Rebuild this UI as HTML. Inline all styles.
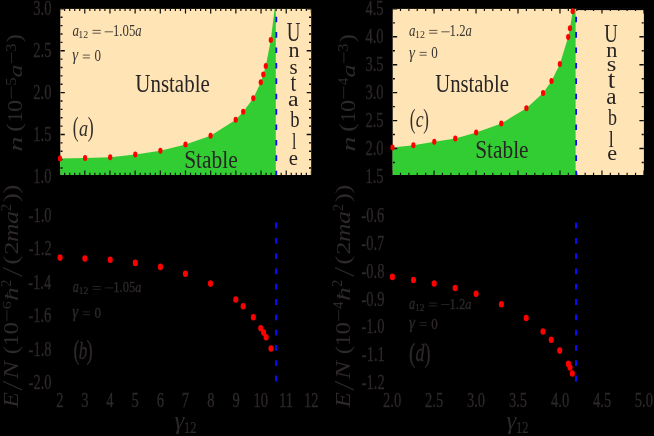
<!DOCTYPE html>
<html><head><meta charset="utf-8"><title>phase diagram</title>
<style>html,body{margin:0;padding:0;background:#000;}svg{display:block;font-family:"Liberation Serif",serif;will-change:transform;transform:translateZ(0);}</style></head>
<body>
<svg width="654" height="436" viewBox="0 0 654 436">
<rect x="60.3" y="8.9" width="250.89999999999998" height="166.1" fill="#ffe4b5"/>
<polygon points="60.0,158.4 85.1,158.0 110.2,157.2 135.3,154.5 160.4,150.8 185.5,144.5 210.6,135.7 235.7,119.7 243.2,111.7 253.3,98.3 260.8,82.2 263.3,74.5 265.8,66.1 270.8,39.9 274.6,8.9 275.8,8.9 275.8,175.0 60.3,175.0" fill="#32cd32"/>
<rect x="392.7" y="8.9" width="251.2" height="166.1" fill="#ffe4b5"/>
<polygon points="392.5,147.6 413.4,145.3 434.3,141.8 455.3,138.6 476.2,132.4 501.3,123.4 526.4,108.3 543.1,93.1 551.5,81.1 559.9,64.1 568.2,36.9 570.0,28.3 572.7,11.3 573.0,8.9 575.6,8.9 575.6,175.0 392.7,175.0" fill="#32cd32"/>
<rect x="577.0" y="8.4" width="67.40" height="1.7" fill="#000"/>
<clipPath id="cpa"><rect x="60.3" y="8.9" width="250.90" height="166.1"/></clipPath>
<path clip-path="url(#cpa)" d="M59.60 8.9v4.5M59.60 175v-4.5M84.78 8.9v4.5M84.78 175v-4.5M109.96 8.9v4.5M109.96 175v-4.5M135.14 8.9v4.5M135.14 175v-4.5M160.32 8.9v4.5M160.32 175v-4.5M185.50 8.9v4.5M185.50 175v-4.5M210.68 8.9v4.5M210.68 175v-4.5M235.86 8.9v4.5M235.86 175v-4.5M261.04 8.9v4.5M261.04 175v-4.5M286.22 8.9v4.5M286.22 175v-4.5M311.40 8.9v4.5M311.40 175v-4.5M59.60 8.9v2.2M59.60 175v-2.2M64.64 8.9v2.2M64.64 175v-2.2M69.67 8.9v2.2M69.67 175v-2.2M74.71 8.9v2.2M74.71 175v-2.2M79.74 8.9v2.2M79.74 175v-2.2M84.78 8.9v2.2M84.78 175v-2.2M89.82 8.9v2.2M89.82 175v-2.2M94.85 8.9v2.2M94.85 175v-2.2M99.89 8.9v2.2M99.89 175v-2.2M104.92 8.9v2.2M104.92 175v-2.2M109.96 8.9v2.2M109.96 175v-2.2M115.00 8.9v2.2M115.00 175v-2.2M120.03 8.9v2.2M120.03 175v-2.2M125.07 8.9v2.2M125.07 175v-2.2M130.10 8.9v2.2M130.10 175v-2.2M135.14 8.9v2.2M135.14 175v-2.2M140.18 8.9v2.2M140.18 175v-2.2M145.21 8.9v2.2M145.21 175v-2.2M150.25 8.9v2.2M150.25 175v-2.2M155.28 8.9v2.2M155.28 175v-2.2M160.32 8.9v2.2M160.32 175v-2.2M165.36 8.9v2.2M165.36 175v-2.2M170.39 8.9v2.2M170.39 175v-2.2M175.43 8.9v2.2M175.43 175v-2.2M180.46 8.9v2.2M180.46 175v-2.2M185.50 8.9v2.2M185.50 175v-2.2M190.54 8.9v2.2M190.54 175v-2.2M195.57 8.9v2.2M195.57 175v-2.2M200.61 8.9v2.2M200.61 175v-2.2M205.64 8.9v2.2M205.64 175v-2.2M210.68 8.9v2.2M210.68 175v-2.2M215.72 8.9v2.2M215.72 175v-2.2M220.75 8.9v2.2M220.75 175v-2.2M225.79 8.9v2.2M225.79 175v-2.2M230.82 8.9v2.2M230.82 175v-2.2M235.86 8.9v2.2M235.86 175v-2.2M240.90 8.9v2.2M240.90 175v-2.2M245.93 8.9v2.2M245.93 175v-2.2M250.97 8.9v2.2M250.97 175v-2.2M256.00 8.9v2.2M256.00 175v-2.2M261.04 8.9v2.2M261.04 175v-2.2M266.08 8.9v2.2M266.08 175v-2.2M271.11 8.9v2.2M271.11 175v-2.2M276.15 8.9v2.2M276.15 175v-2.2M281.18 8.9v2.2M281.18 175v-2.2M286.22 8.9v2.2M286.22 175v-2.2M291.26 8.9v2.2M291.26 175v-2.2M296.29 8.9v2.2M296.29 175v-2.2M301.33 8.9v2.2M301.33 175v-2.2M306.36 8.9v2.2M306.36 175v-2.2M311.40 8.9v2.2M311.40 175v-2.2" stroke="#0c0a08" stroke-width="1.2" fill="none"/>
<path clip-path="url(#cpa)" d="M60.3 8.90h4.5M311.2 8.90h-4.5M60.3 50.77h4.5M311.2 50.77h-4.5M60.3 92.64h4.5M311.2 92.64h-4.5M60.3 134.51h4.5M311.2 134.51h-4.5M60.3 176.38h4.5M311.2 176.38h-4.5M60.3 8.90h2.2M311.2 8.90h-2.2M60.3 17.27h2.2M311.2 17.27h-2.2M60.3 25.65h2.2M311.2 25.65h-2.2M60.3 34.02h2.2M311.2 34.02h-2.2M60.3 42.40h2.2M311.2 42.40h-2.2M60.3 50.77h2.2M311.2 50.77h-2.2M60.3 59.14h2.2M311.2 59.14h-2.2M60.3 67.52h2.2M311.2 67.52h-2.2M60.3 75.89h2.2M311.2 75.89h-2.2M60.3 84.27h2.2M311.2 84.27h-2.2M60.3 92.64h2.2M311.2 92.64h-2.2M60.3 101.01h2.2M311.2 101.01h-2.2M60.3 109.39h2.2M311.2 109.39h-2.2M60.3 117.76h2.2M311.2 117.76h-2.2M60.3 126.14h2.2M311.2 126.14h-2.2M60.3 134.51h2.2M311.2 134.51h-2.2M60.3 142.88h2.2M311.2 142.88h-2.2M60.3 151.26h2.2M311.2 151.26h-2.2M60.3 159.63h2.2M311.2 159.63h-2.2M60.3 168.01h2.2M311.2 168.01h-2.2M60.3 176.38h2.2M311.2 176.38h-2.2" stroke="#0c0a08" stroke-width="1.4" fill="none"/>
<clipPath id="cpc"><rect x="392.7" y="8.9" width="251.20" height="166.1"/></clipPath>
<path clip-path="url(#cpc)" d="M392.10 8.9v4.5M392.10 175v-4.5M434.07 8.9v4.5M434.07 175v-4.5M476.04 8.9v4.5M476.04 175v-4.5M518.01 8.9v4.5M518.01 175v-4.5M559.98 8.9v4.5M559.98 175v-4.5M601.95 8.9v4.5M601.95 175v-4.5M643.92 8.9v4.5M643.92 175v-4.5M392.10 8.9v2.2M392.10 175v-2.2M400.49 8.9v2.2M400.49 175v-2.2M408.89 8.9v2.2M408.89 175v-2.2M417.28 8.9v2.2M417.28 175v-2.2M425.68 8.9v2.2M425.68 175v-2.2M434.07 8.9v2.2M434.07 175v-2.2M442.46 8.9v2.2M442.46 175v-2.2M450.86 8.9v2.2M450.86 175v-2.2M459.25 8.9v2.2M459.25 175v-2.2M467.65 8.9v2.2M467.65 175v-2.2M476.04 8.9v2.2M476.04 175v-2.2M484.43 8.9v2.2M484.43 175v-2.2M492.83 8.9v2.2M492.83 175v-2.2M501.22 8.9v2.2M501.22 175v-2.2M509.62 8.9v2.2M509.62 175v-2.2M518.01 8.9v2.2M518.01 175v-2.2M526.40 8.9v2.2M526.40 175v-2.2M534.80 8.9v2.2M534.80 175v-2.2M543.19 8.9v2.2M543.19 175v-2.2M551.59 8.9v2.2M551.59 175v-2.2M559.98 8.9v2.2M559.98 175v-2.2M568.37 8.9v2.2M568.37 175v-2.2M576.77 8.9v2.2M576.77 175v-2.2M585.16 8.9v2.2M585.16 175v-2.2M593.56 8.9v2.2M593.56 175v-2.2M601.95 8.9v2.2M601.95 175v-2.2M610.34 8.9v2.2M610.34 175v-2.2M618.74 8.9v2.2M618.74 175v-2.2M627.13 8.9v2.2M627.13 175v-2.2M635.53 8.9v2.2M635.53 175v-2.2M643.92 8.9v2.2M643.92 175v-2.2" stroke="#0c0a08" stroke-width="1.2" fill="none"/>
<path clip-path="url(#cpc)" d="M392.7 8.90h4.5M643.9 8.90h-4.5M392.7 36.82h4.5M643.9 36.82h-4.5M392.7 64.74h4.5M643.9 64.74h-4.5M392.7 92.66h4.5M643.9 92.66h-4.5M392.7 120.58h4.5M643.9 120.58h-4.5M392.7 148.50h4.5M643.9 148.50h-4.5M392.7 176.42h4.5M643.9 176.42h-4.5M392.7 8.90h2.2M643.9 8.90h-2.2M392.7 22.86h2.2M643.9 22.86h-2.2M392.7 36.82h2.2M643.9 36.82h-2.2M392.7 50.78h2.2M643.9 50.78h-2.2M392.7 64.74h2.2M643.9 64.74h-2.2M392.7 78.70h2.2M643.9 78.70h-2.2M392.7 92.66h2.2M643.9 92.66h-2.2M392.7 106.62h2.2M643.9 106.62h-2.2M392.7 120.58h2.2M643.9 120.58h-2.2M392.7 134.54h2.2M643.9 134.54h-2.2M392.7 148.50h2.2M643.9 148.50h-2.2M392.7 162.46h2.2M643.9 162.46h-2.2M392.7 176.42h2.2M643.9 176.42h-2.2" stroke="#0c0a08" stroke-width="1.4" fill="none"/>
<line x1="276.3" y1="175" x2="276.3" y2="9.9" stroke="#0a0aff" stroke-width="1.8" stroke-dasharray="5.6 9.8" stroke-dashoffset="1.3"/>
<line x1="276.1" y1="381.40" x2="276.1" y2="216.3" stroke="#0a0aff" stroke-width="2.0" stroke-dasharray="5.8 9.5"/>
<line x1="576.1" y1="175" x2="576.1" y2="9.9" stroke="#0a0aff" stroke-width="1.8" stroke-dasharray="5.6 9.8" stroke-dashoffset="1.3"/>
<line x1="576.0" y1="381.40" x2="576.0" y2="216.3" stroke="#0a0aff" stroke-width="2.0" stroke-dasharray="5.8 9.5"/>
<ellipse cx="60" cy="158.4" rx="2.12" ry="3.0" fill="#ff0000"/>
<ellipse cx="85.1" cy="158" rx="2.12" ry="3.0" fill="#ff0000"/>
<ellipse cx="110.2" cy="157.2" rx="2.12" ry="3.0" fill="#ff0000"/>
<ellipse cx="135.3" cy="154.5" rx="2.12" ry="3.0" fill="#ff0000"/>
<ellipse cx="160.4" cy="150.8" rx="2.12" ry="3.0" fill="#ff0000"/>
<ellipse cx="185.5" cy="144.5" rx="2.12" ry="3.0" fill="#ff0000"/>
<ellipse cx="210.6" cy="135.7" rx="2.12" ry="3.0" fill="#ff0000"/>
<ellipse cx="235.7" cy="119.7" rx="2.12" ry="3.0" fill="#ff0000"/>
<ellipse cx="243.2" cy="111.7" rx="2.12" ry="3.0" fill="#ff0000"/>
<ellipse cx="253.3" cy="98.3" rx="2.12" ry="3.0" fill="#ff0000"/>
<ellipse cx="260.8" cy="82.2" rx="2.12" ry="3.0" fill="#ff0000"/>
<ellipse cx="263.3" cy="74.5" rx="2.12" ry="3.0" fill="#ff0000"/>
<ellipse cx="265.8" cy="66.1" rx="2.12" ry="3.0" fill="#ff0000"/>
<ellipse cx="270.8" cy="39.9" rx="2.12" ry="3.0" fill="#ff0000"/>
<ellipse cx="60.1" cy="257.6" rx="2.55" ry="3.3" fill="#ff0000"/>
<ellipse cx="84.9" cy="258.5" rx="2.55" ry="3.3" fill="#ff0000"/>
<ellipse cx="110.2" cy="259.8" rx="2.55" ry="3.3" fill="#ff0000"/>
<ellipse cx="135.3" cy="262.9" rx="2.55" ry="3.3" fill="#ff0000"/>
<ellipse cx="160.5" cy="266.9" rx="2.55" ry="3.3" fill="#ff0000"/>
<ellipse cx="185.4" cy="273.7" rx="2.55" ry="3.3" fill="#ff0000"/>
<ellipse cx="210.5" cy="283.6" rx="2.55" ry="3.3" fill="#ff0000"/>
<ellipse cx="235.8" cy="299.5" rx="2.55" ry="3.3" fill="#ff0000"/>
<ellipse cx="243.2" cy="306.2" rx="2.55" ry="3.3" fill="#ff0000"/>
<ellipse cx="253.4" cy="317.2" rx="2.55" ry="3.3" fill="#ff0000"/>
<ellipse cx="260.8" cy="328.2" rx="2.55" ry="3.3" fill="#ff0000"/>
<ellipse cx="263.6" cy="332.6" rx="2.55" ry="3.3" fill="#ff0000"/>
<ellipse cx="266.1" cy="337.3" rx="2.55" ry="3.3" fill="#ff0000"/>
<ellipse cx="271" cy="348.5" rx="2.55" ry="3.3" fill="#ff0000"/>
<ellipse cx="392.5" cy="147.6" rx="2.12" ry="3.0" fill="#ff0000"/>
<ellipse cx="413.4" cy="145.3" rx="2.12" ry="3.0" fill="#ff0000"/>
<ellipse cx="434.3" cy="141.8" rx="2.12" ry="3.0" fill="#ff0000"/>
<ellipse cx="455.3" cy="138.6" rx="2.12" ry="3.0" fill="#ff0000"/>
<ellipse cx="476.2" cy="132.4" rx="2.12" ry="3.0" fill="#ff0000"/>
<ellipse cx="501.3" cy="123.4" rx="2.12" ry="3.0" fill="#ff0000"/>
<ellipse cx="526.4" cy="108.3" rx="2.12" ry="3.0" fill="#ff0000"/>
<ellipse cx="543.1" cy="93.1" rx="2.12" ry="3.0" fill="#ff0000"/>
<ellipse cx="551.5" cy="81.1" rx="2.12" ry="3.0" fill="#ff0000"/>
<ellipse cx="559.9" cy="64.1" rx="2.12" ry="3.0" fill="#ff0000"/>
<ellipse cx="568.2" cy="36.9" rx="2.12" ry="3.0" fill="#ff0000"/>
<ellipse cx="570" cy="28.3" rx="2.12" ry="3.0" fill="#ff0000"/>
<ellipse cx="572.7" cy="11.3" rx="2.12" ry="3.0" fill="#ff0000"/>
<ellipse cx="392.4" cy="276.9" rx="2.55" ry="3.3" fill="#ff0000"/>
<ellipse cx="413.5" cy="280" rx="2.55" ry="3.3" fill="#ff0000"/>
<ellipse cx="434.2" cy="283.5" rx="2.55" ry="3.3" fill="#ff0000"/>
<ellipse cx="455.2" cy="288" rx="2.55" ry="3.3" fill="#ff0000"/>
<ellipse cx="476.1" cy="293.8" rx="2.55" ry="3.3" fill="#ff0000"/>
<ellipse cx="501.4" cy="304.2" rx="2.55" ry="3.3" fill="#ff0000"/>
<ellipse cx="526.2" cy="318" rx="2.55" ry="3.3" fill="#ff0000"/>
<ellipse cx="543" cy="331.5" rx="2.55" ry="3.3" fill="#ff0000"/>
<ellipse cx="551.2" cy="339.8" rx="2.55" ry="3.3" fill="#ff0000"/>
<ellipse cx="559.7" cy="350.6" rx="2.55" ry="3.3" fill="#ff0000"/>
<ellipse cx="568.4" cy="363.9" rx="2.55" ry="3.3" fill="#ff0000"/>
<ellipse cx="570" cy="367.5" rx="2.55" ry="3.3" fill="#ff0000"/>
<ellipse cx="572.3" cy="373.5" rx="2.55" ry="3.3" fill="#ff0000"/>
<text fill="#282424" transform="matrix(0.8066 0 0 0.9589 54.637 -99.621)" x="100" y="200" font-family="Liberation Serif" font-size="26">Unstable</text>
<text fill="#282424" transform="matrix(0.8257 0 0 0.9534 101.585 -22.723)" x="100" y="200" font-family="Liberation Serif" font-size="26">Stable</text>
<text fill="#282424" transform="matrix(0.7978 0 0 0.9644 355.421 -100.918)" x="100" y="200" font-family="Liberation Serif" font-size="26">Unstable</text>
<text fill="#282424" transform="matrix(0.8209 0 0 0.9315 393.175 -27.934)" x="100" y="200" font-family="Liberation Serif" font-size="26">Stable</text>
<text fill="#282424" transform="matrix(0.7268 0 0 1.0377 214.061 -166.596)" x="100" y="200" font-family="Liberation Serif" font-size="26">U</text>
<text fill="#282424" transform="matrix(0.8500 0 0 0.8000 203.575 -103.200)" x="100" y="200" font-family="Liberation Serif" font-size="26">n</text>
<text fill="#282424" transform="matrix(0.8000 0 0 0.8320 209.400 -92.608)" x="100" y="200" font-family="Liberation Serif" font-size="26">s</text>
<text fill="#282424" transform="matrix(0.8000 0 0 0.9288 210.400 -94.995)" x="100" y="200" font-family="Liberation Serif" font-size="26">t</text>
<text fill="#282424" transform="matrix(0.9171 0 0 0.8400 196.376 -62.210)" x="100" y="200" font-family="Liberation Serif" font-size="26">a</text>
<text fill="#282424" transform="matrix(0.7167 0 0 0.9041 218.533 -54.048)" x="100" y="200" font-family="Liberation Serif" font-size="26">b</text>
<text fill="#282424" transform="matrix(0.6080 0 0 0.9000 231.096 -30.500)" x="100" y="200" font-family="Liberation Serif" font-size="26">l</text>
<text fill="#282424" transform="matrix(0.8000 0 0 0.8240 208.800 0.594)" x="100" y="200" font-family="Liberation Serif" font-size="26">e</text>
<text fill="#282424" transform="matrix(0.7155 0 0 0.9855 532.693 -155.148)" x="100" y="200" font-family="Liberation Serif" font-size="26">U</text>
<text fill="#282424" transform="matrix(0.8583 0 0 0.7918 520.338 -101.567)" x="100" y="200" font-family="Liberation Serif" font-size="26">n</text>
<text fill="#282424" transform="matrix(0.9455 0 0 0.7840 512.109 -86.096)" x="100" y="200" font-family="Liberation Serif" font-size="26">s</text>
<text fill="#282424" transform="matrix(1.0370 0 0 0.9898 504.037 -110.214)" x="100" y="200" font-family="Liberation Serif" font-size="26">t</text>
<text fill="#282424" transform="matrix(0.8878 0 0 0.8720 517.532 -70.518)" x="100" y="200" font-family="Liberation Serif" font-size="26">a</text>
<text fill="#282424" transform="matrix(0.6917 0 0 0.9096 538.833 -57.145)" x="100" y="200" font-family="Liberation Serif" font-size="26">b</text>
<text fill="#282424" transform="matrix(0.6880 0 0 0.8889 539.956 -30.378)" x="100" y="200" font-family="Liberation Serif" font-size="26">l</text>
<text fill="#282424" transform="matrix(0.8513 0 0 0.8240 522.021 -4.306)" x="100" y="200" font-family="Liberation Serif" font-size="26">e</text>
<text fill="#342f2a" transform="matrix(0.7200 0 0 1.1395 0.880 -92.005)" x="100" y="200" font-family="Liberation Serif" font-size="24">(</text>
<text fill="#342f2a" transform="matrix(0.7610 0 0 0.9826 2.932 -60.967)" x="100" y="200" font-family="Liberation Serif" font-size="24" font-style="italic">a</text>
<text fill="#342f2a" transform="matrix(0.7520 0 0 1.1395 12.436 -92.005)" x="100" y="200" font-family="Liberation Serif" font-size="24">)</text>
<text fill="#342f2a" transform="matrix(0.7200 0 0 1.1349 337.680 -99.451)" x="100" y="200" font-family="Liberation Serif" font-size="24">(</text>
<text fill="#342f2a" transform="matrix(0.7368 0 0 0.9652 341.963 -66.085)" x="100" y="200" font-family="Liberation Serif" font-size="24" font-style="italic">c</text>
<text fill="#342f2a" transform="matrix(0.7040 0 0 1.1349 352.772 -99.451)" x="100" y="200" font-family="Liberation Serif" font-size="24">)</text>
<text fill="#2e2929" transform="matrix(0.7520 0 0 1.1682 -1.752 125.031)" x="100" y="200" font-family="Liberation Serif" font-size="24" stroke="#2e2929" stroke-width="0.3">(</text>
<text fill="#2e2929" transform="matrix(0.7163 0 0 1.0529 7.135 148.049)" x="100" y="200" font-family="Liberation Serif" font-size="24" stroke="#2e2929" stroke-width="0.3" font-style="italic">b</text>
<text fill="#2e2929" transform="matrix(0.7840 0 0 1.1682 8.212 125.031)" x="100" y="200" font-family="Liberation Serif" font-size="24" stroke="#2e2929" stroke-width="0.3">)</text>
<text fill="#2e2929" transform="matrix(0.8160 0 0 1.1773 327.384 126.365)" x="100" y="200" font-family="Liberation Serif" font-size="24" stroke="#2e2929" stroke-width="0.3">(</text>
<text fill="#2e2929" transform="matrix(0.7489 0 0 1.0529 340.732 150.849)" x="100" y="200" font-family="Liberation Serif" font-size="24" stroke="#2e2929" stroke-width="0.3" font-style="italic">d</text>
<text fill="#2e2929" transform="matrix(0.7520 0 0 1.1773 349.436 126.365)" x="100" y="200" font-family="Liberation Serif" font-size="24" stroke="#2e2929" stroke-width="0.3">)</text>
<text fill="#3a3530" transform="matrix(0.8148 0 0 1.0129 -8.989 -166.684)" x="100" y="200" font-family="Liberation Serif" font-size="16" font-style="italic">a</text>
<text fill="#3a3530" transform="matrix(0.6222 0 0 0.6762 16.144 -96.838)" x="100" y="200" font-family="Liberation Serif" font-size="16">12</text>
<path d="M92.50 30.40H100.80" stroke="#3a3530" stroke-width="0.8" fill="none"/>
<path d="M92.50 33.20H100.80" stroke="#3a3530" stroke-width="0.8" fill="none"/>
<path d="M104.70 31.80H113.00" stroke="#3a3530" stroke-width="0.8" fill="none"/>
<text fill="#3a3530" transform="matrix(0.7970 0 0 0.9907 33.301 -162.237)" x="100" y="200" font-family="Liberation Serif" font-size="16">1.05<tspan font-style="italic">a</tspan></text>
<text fill="#3a3530" transform="matrix(0.9385 0 0 1.0512 -21.681 -149.812)" x="100" y="200" font-family="Liberation Serif" font-size="16"><tspan font-style="italic">γ</tspan></text>
<path d="M82.80 55.10H89.90" stroke="#3a3530" stroke-width="0.8" fill="none"/>
<path d="M82.80 57.90H89.90" stroke="#3a3530" stroke-width="0.8" fill="none"/>
<text fill="#3a3530" transform="matrix(0.8143 0 0 0.9907 12.964 -137.137)" x="100" y="200" font-family="Liberation Serif" font-size="16">0</text>
<text fill="#3a3530" transform="matrix(0.8148 0 0 1.0129 327.611 -166.684)" x="100" y="200" font-family="Liberation Serif" font-size="16" font-style="italic">a</text>
<text fill="#3a3530" transform="matrix(0.6222 0 0 0.6762 352.744 -96.838)" x="100" y="200" font-family="Liberation Serif" font-size="16">12</text>
<path d="M429.10 30.40H437.40" stroke="#3a3530" stroke-width="0.8" fill="none"/>
<path d="M429.10 33.20H437.40" stroke="#3a3530" stroke-width="0.8" fill="none"/>
<path d="M441.30 31.80H449.60" stroke="#3a3530" stroke-width="0.8" fill="none"/>
<text fill="#3a3530" transform="matrix(0.7961 0 0 0.9907 369.994 -162.237)" x="100" y="200" font-family="Liberation Serif" font-size="16">1.2<tspan font-style="italic">a</tspan></text>
<text fill="#3a3530" transform="matrix(0.9385 0 0 1.0512 315.119 -152.512)" x="100" y="200" font-family="Liberation Serif" font-size="16"><tspan font-style="italic">γ</tspan></text>
<path d="M419.60 52.40H426.70" stroke="#3a3530" stroke-width="0.8" fill="none"/>
<path d="M419.60 55.20H426.70" stroke="#3a3530" stroke-width="0.8" fill="none"/>
<text fill="#3a3530" transform="matrix(0.8143 0 0 0.9907 349.764 -139.837)" x="100" y="200" font-family="Liberation Serif" font-size="16">0</text>
<text fill="#2e2929" transform="matrix(0.7586 0 0 0.9812 -3.052 95.755)" x="100" y="200" font-family="Liberation Serif" font-size="16" stroke="#2e2929" stroke-width="0.35" font-style="italic">a</text>
<text fill="#2e2929" transform="matrix(0.6000 0 0 0.6455 18.650 165.248)" x="100" y="200" font-family="Liberation Serif" font-size="16" stroke="#2e2929" stroke-width="0.35">12</text>
<path d="M92.60 286.50H100.90" stroke="#2e2929" stroke-width="0.8" fill="none"/>
<path d="M92.60 289.30H100.90" stroke="#2e2929" stroke-width="0.8" fill="none"/>
<path d="M104.80 287.90H113.10" stroke="#2e2929" stroke-width="0.8" fill="none"/>
<text fill="#2e2929" transform="matrix(0.7854 0 0 0.9682 34.778 98.372)" x="100" y="200" font-family="Liberation Serif" font-size="16" stroke="#2e2929" stroke-width="0.35">1.05<tspan font-style="italic">a</tspan></text>
<text fill="#2e2929" transform="matrix(0.9385 0 0 1.0273 -21.681 111.850)" x="100" y="200" font-family="Liberation Serif" font-size="16" stroke="#2e2929" stroke-width="0.35"><tspan font-style="italic">γ</tspan></text>
<path d="M82.80 311.90H89.90" stroke="#2e2929" stroke-width="0.8" fill="none"/>
<path d="M82.80 314.70H89.90" stroke="#2e2929" stroke-width="0.8" fill="none"/>
<text fill="#2e2929" transform="matrix(0.8143 0 0 0.9682 12.964 124.172)" x="100" y="200" font-family="Liberation Serif" font-size="16" stroke="#2e2929" stroke-width="0.35">0</text>
<text fill="#2e2929" transform="matrix(0.7586 0 0 0.9812 333.248 112.355)" x="100" y="200" font-family="Liberation Serif" font-size="16" stroke="#2e2929" stroke-width="0.35" font-style="italic">a</text>
<text fill="#2e2929" transform="matrix(0.6000 0 0 0.6455 354.950 181.848)" x="100" y="200" font-family="Liberation Serif" font-size="16" stroke="#2e2929" stroke-width="0.35">12</text>
<path d="M428.90 303.10H437.20" stroke="#2e2929" stroke-width="0.8" fill="none"/>
<path d="M428.90 305.90H437.20" stroke="#2e2929" stroke-width="0.8" fill="none"/>
<path d="M441.10 304.50H449.40" stroke="#2e2929" stroke-width="0.8" fill="none"/>
<text fill="#2e2929" transform="matrix(0.7810 0 0 0.9682 371.529 114.972)" x="100" y="200" font-family="Liberation Serif" font-size="16" stroke="#2e2929" stroke-width="0.35">1.2<tspan font-style="italic">a</tspan></text>
<text fill="#2e2929" transform="matrix(0.9385 0 0 1.0273 315.119 122.650)" x="100" y="200" font-family="Liberation Serif" font-size="16" stroke="#2e2929" stroke-width="0.35"><tspan font-style="italic">γ</tspan></text>
<path d="M419.60 322.70H426.70" stroke="#2e2929" stroke-width="0.8" fill="none"/>
<path d="M419.60 325.50H426.70" stroke="#2e2929" stroke-width="0.8" fill="none"/>
<text fill="#2e2929" transform="matrix(0.8143 0 0 0.9682 349.764 134.972)" x="100" y="200" font-family="Liberation Serif" font-size="16" stroke="#2e2929" stroke-width="0.35">0</text>
<text fill="#2e2929" transform="matrix(0.9561 0 0 0.9429 79.012 240.843)" x="100" y="200" font-family="Liberation Serif" font-size="26" font-style="italic">γ</text>
<text fill="#2e2929" transform="matrix(0.4800 0 0 0.6261 136.120 307.383)" x="100" y="200" font-family="Liberation Serif" font-size="26" stroke="#2e2929" stroke-width="0.3">12</text>
<text fill="#2e2929" transform="matrix(0.9561 0 0 0.9429 411.012 240.843)" x="100" y="200" font-family="Liberation Serif" font-size="26" font-style="italic">γ</text>
<text fill="#2e2929" transform="matrix(0.4800 0 0 0.6261 468.120 307.383)" x="100" y="200" font-family="Liberation Serif" font-size="26" stroke="#2e2929" stroke-width="0.3">12</text>
<text fill="#2e2929" transform="matrix(0 -1.2900 0.8267 0 -142.933 280.690)" x="100" y="200" font-family="Liberation Serif" font-size="24" font-style="italic">n</text>
<text fill="#2e2929" transform="matrix(0 -1.0560 0.8605 0 -150.695 237.256)" x="100" y="200" font-family="Liberation Serif" font-size="24">(</text>
<text fill="#2e2929" transform="matrix(0 -0.8824 0.8889 0 -155.378 210.600)" x="100" y="200" font-family="Liberation Serif" font-size="24">1</text>
<text fill="#2e2929" transform="matrix(0 -1.0200 0.8862 0 -154.852 213.920)" x="100" y="200" font-family="Liberation Serif" font-size="24">0</text>
<path d="M11.30 86.40V98.70" stroke="#2e2929" stroke-width="0.9" fill="none"/>
<text fill="#2e2929" transform="matrix(0 -0.6947 0.5875 0 -101.947 155.116)" x="100" y="200" font-family="Liberation Serif" font-size="24">5</text>
<text fill="#2e2929" transform="matrix(0 -1.0829 0.8261 0 -143.024 185.705)" x="100" y="200" font-family="Liberation Serif" font-size="24" font-style="italic">a</text>
<path d="M11.50 52.40V63.10" stroke="#2e2929" stroke-width="0.9" fill="none"/>
<text fill="#2e2929" transform="matrix(0 -0.6872 0.5875 0 -101.947 120.477)" x="100" y="200" font-family="Liberation Serif" font-size="24">3</text>
<text fill="#2e2929" transform="matrix(0 -1.0240 0.8605 0 -150.695 144.768)" x="100" y="200" font-family="Liberation Serif" font-size="24">)</text>
<text fill="#2e2929" transform="matrix(0 -1.2900 0.8267 0 189.467 280.690)" x="100" y="200" font-family="Liberation Serif" font-size="24" font-style="italic">n</text>
<text fill="#2e2929" transform="matrix(0 -1.0560 0.8605 0 181.705 237.256)" x="100" y="200" font-family="Liberation Serif" font-size="24">(</text>
<text fill="#2e2929" transform="matrix(0 -0.8824 0.8889 0 177.022 210.600)" x="100" y="200" font-family="Liberation Serif" font-size="24">1</text>
<text fill="#2e2929" transform="matrix(0 -1.0200 0.8862 0 177.548 213.920)" x="100" y="200" font-family="Liberation Serif" font-size="24">0</text>
<path d="M343.70 86.40V98.70" stroke="#2e2929" stroke-width="0.9" fill="none"/>
<text fill="#2e2929" transform="matrix(0 -0.6000 0.5968 0 228.735 144.900)" x="100" y="200" font-family="Liberation Serif" font-size="24">4</text>
<text fill="#2e2929" transform="matrix(0 -1.0829 0.8261 0 189.376 185.705)" x="100" y="200" font-family="Liberation Serif" font-size="24" font-style="italic">a</text>
<path d="M343.90 52.40V63.10" stroke="#2e2929" stroke-width="0.9" fill="none"/>
<text fill="#2e2929" transform="matrix(0 -0.6872 0.5875 0 230.453 120.477)" x="100" y="200" font-family="Liberation Serif" font-size="24">3</text>
<text fill="#2e2929" transform="matrix(0 -1.0240 0.8605 0 181.705 144.768)" x="100" y="200" font-family="Liberation Serif" font-size="24">)</text>
<text fill="#2e2929" transform="matrix(0 -1.0483 0.8317 0 -148.449 512.266)" x="100" y="200" font-family="Liberation Serif" font-size="24" font-style="italic">E</text>
<text fill="#2e2929" transform="matrix(0 -1.0211 1.2125 0 -220.403 491.584)" x="100" y="200" font-family="Liberation Serif" font-size="24" font-style="italic">/</text>
<text fill="#2e2929" transform="matrix(0 -1.1246 0.8317 0 -148.449 491.483)" x="100" y="200" font-family="Liberation Serif" font-size="24" font-style="italic">N</text>
<text fill="#2e2929" transform="matrix(0 -1.0240 0.9023 0 -162.577 456.624)" x="100" y="200" font-family="Liberation Serif" font-size="24">(</text>
<text fill="#2e2929" transform="matrix(0 -0.9765 0.8762 0 -157.038 443.600)" x="100" y="200" font-family="Liberation Serif" font-size="24">1</text>
<text fill="#2e2929" transform="matrix(0 -1.0400 0.8738 0 -156.588 438.540)" x="100" y="200" font-family="Liberation Serif" font-size="24">0</text>
<path d="M6.90 310.10V320.80" stroke="#2e2929" stroke-width="0.9" fill="none"/>
<text fill="#2e2929" transform="matrix(0 -0.6732 0.5625 0 -101.441 376.590)" x="100" y="200" font-family="Liberation Serif" font-size="24">6</text>
<text fill="#2e2929" transform="matrix(0 -1.1500 0.8182 0 -145.336 416.050)" x="100" y="200" font-family="Liberation Serif" font-size="24" font-style="italic">ħ</text>
<text fill="#2e2929" transform="matrix(0 -0.6154 0.5651 0 -102.316 348.654)" x="100" y="200" font-family="Liberation Serif" font-size="24">2</text>
<text fill="#2e2929" transform="matrix(0 -1.0211 1.2125 0 -220.403 377.884)" x="100" y="200" font-family="Liberation Serif" font-size="24" font-style="italic">/</text>
<text fill="#2e2929" transform="matrix(0 -1.1360 0.9023 0 -162.577 378.436)" x="100" y="200" font-family="Liberation Serif" font-size="24">(</text>
<text fill="#2e2929" transform="matrix(0 -1.1179 0.8254 0 -146.879 366.613)" x="100" y="200" font-family="Liberation Serif" font-size="24">2</text>
<text fill="#2e2929" transform="matrix(0 -1.0623 0.8978 0 -161.256 348.292)" x="100" y="200" font-family="Liberation Serif" font-size="24" font-style="italic">m</text>
<text fill="#2e2929" transform="matrix(0 -1.0927 0.8783 0 -157.572 333.388)" x="100" y="200" font-family="Liberation Serif" font-size="24" font-style="italic">a</text>
<text fill="#2e2929" transform="matrix(0 -0.6154 0.5714 0 -103.086 272.754)" x="100" y="200" font-family="Liberation Serif" font-size="24">2</text>
<text fill="#2e2929" transform="matrix(0 -1.1200 0.9023 0 -162.577 314.040)" x="100" y="200" font-family="Liberation Serif" font-size="24">)</text>
<text fill="#2e2929" transform="matrix(0 -1.1200 0.9023 0 -162.577 305.540)" x="100" y="200" font-family="Liberation Serif" font-size="24">)</text>
<text fill="#2e2929" transform="matrix(0 -1.0483 0.8317 0 183.251 512.266)" x="100" y="200" font-family="Liberation Serif" font-size="24" font-style="italic">E</text>
<text fill="#2e2929" transform="matrix(0 -1.0211 1.2125 0 111.297 491.584)" x="100" y="200" font-family="Liberation Serif" font-size="24" font-style="italic">/</text>
<text fill="#2e2929" transform="matrix(0 -1.1246 0.8317 0 183.251 491.483)" x="100" y="200" font-family="Liberation Serif" font-size="24" font-style="italic">N</text>
<text fill="#2e2929" transform="matrix(0 -1.0240 0.9023 0 169.123 456.624)" x="100" y="200" font-family="Liberation Serif" font-size="24">(</text>
<text fill="#2e2929" transform="matrix(0 -0.9765 0.8762 0 174.662 443.600)" x="100" y="200" font-family="Liberation Serif" font-size="24">1</text>
<text fill="#2e2929" transform="matrix(0 -1.0400 0.8738 0 175.112 438.540)" x="100" y="200" font-family="Liberation Serif" font-size="24">0</text>
<path d="M338.60 310.10V320.80" stroke="#2e2929" stroke-width="0.9" fill="none"/>
<text fill="#2e2929" transform="matrix(0 -0.6273 0.5714 0 228.614 371.641)" x="100" y="200" font-family="Liberation Serif" font-size="24">4</text>
<text fill="#2e2929" transform="matrix(0 -1.1500 0.8182 0 186.364 416.050)" x="100" y="200" font-family="Liberation Serif" font-size="24" font-style="italic">ħ</text>
<text fill="#2e2929" transform="matrix(0 -0.6154 0.5651 0 229.384 348.654)" x="100" y="200" font-family="Liberation Serif" font-size="24">2</text>
<text fill="#2e2929" transform="matrix(0 -1.0211 1.2125 0 111.297 377.884)" x="100" y="200" font-family="Liberation Serif" font-size="24" font-style="italic">/</text>
<text fill="#2e2929" transform="matrix(0 -1.1360 0.9023 0 169.123 378.436)" x="100" y="200" font-family="Liberation Serif" font-size="24">(</text>
<text fill="#2e2929" transform="matrix(0 -1.1179 0.8254 0 184.821 366.613)" x="100" y="200" font-family="Liberation Serif" font-size="24">2</text>
<text fill="#2e2929" transform="matrix(0 -1.0623 0.8978 0 170.444 348.292)" x="100" y="200" font-family="Liberation Serif" font-size="24" font-style="italic">m</text>
<text fill="#2e2929" transform="matrix(0 -1.0927 0.8783 0 174.128 333.388)" x="100" y="200" font-family="Liberation Serif" font-size="24" font-style="italic">a</text>
<text fill="#2e2929" transform="matrix(0 -0.6154 0.5714 0 228.614 272.754)" x="100" y="200" font-family="Liberation Serif" font-size="24">2</text>
<text fill="#2e2929" transform="matrix(0 -1.1200 0.9023 0 169.123 314.040)" x="100" y="200" font-family="Liberation Serif" font-size="24">)</text>
<text fill="#2e2929" transform="matrix(0 -1.1200 0.9023 0 169.123 305.540)" x="100" y="200" font-family="Liberation Serif" font-size="24">)</text>
<text fill="#2e2929" stroke="#2e2929" stroke-width="0.3" transform="matrix(0.7116 0 0 1.0109 -37.869 -186.732)" x="100" y="200" font-family="Liberation Serif" font-size="20.4">3.0</text>
<text fill="#2e2929" stroke="#2e2929" stroke-width="0.3" transform="matrix(0.7116 0 0 1.0109 -37.869 -144.862)" x="100" y="200" font-family="Liberation Serif" font-size="20.4">2.5</text>
<text fill="#2e2929" stroke="#2e2929" stroke-width="0.3" transform="matrix(0.7116 0 0 1.0109 -37.869 -102.992)" x="100" y="200" font-family="Liberation Serif" font-size="20.4">2.0</text>
<text fill="#2e2929" stroke="#2e2929" stroke-width="0.3" transform="matrix(0.7116 0 0 1.0109 -37.869 -61.122)" x="100" y="200" font-family="Liberation Serif" font-size="20.4">1.5</text>
<text fill="#2e2929" stroke="#2e2929" stroke-width="0.3" transform="matrix(0.7116 0 0 1.0109 -37.869 -19.252)" x="100" y="200" font-family="Liberation Serif" font-size="20.4">1.0</text>
<text fill="#2e2929" stroke="#2e2929" stroke-width="0.3" transform="matrix(0.7116 0 0 1.0109 294.331 -186.732)" x="100" y="200" font-family="Liberation Serif" font-size="20.4">4.5</text>
<text fill="#2e2929" stroke="#2e2929" stroke-width="0.3" transform="matrix(0.7116 0 0 1.0109 294.331 -158.812)" x="100" y="200" font-family="Liberation Serif" font-size="20.4">4.0</text>
<text fill="#2e2929" stroke="#2e2929" stroke-width="0.3" transform="matrix(0.7116 0 0 1.0109 294.331 -130.892)" x="100" y="200" font-family="Liberation Serif" font-size="20.4">3.5</text>
<text fill="#2e2929" stroke="#2e2929" stroke-width="0.3" transform="matrix(0.7116 0 0 1.0109 294.331 -102.972)" x="100" y="200" font-family="Liberation Serif" font-size="20.4">3.0</text>
<text fill="#2e2929" stroke="#2e2929" stroke-width="0.3" transform="matrix(0.7116 0 0 1.0109 294.331 -75.052)" x="100" y="200" font-family="Liberation Serif" font-size="20.4">2.5</text>
<text fill="#2e2929" stroke="#2e2929" stroke-width="0.3" transform="matrix(0.7116 0 0 1.0109 294.331 -47.132)" x="100" y="200" font-family="Liberation Serif" font-size="20.4">2.0</text>
<text fill="#2e2929" stroke="#2e2929" stroke-width="0.3" transform="matrix(0.7116 0 0 1.0109 294.331 -19.212)" x="100" y="200" font-family="Liberation Serif" font-size="20.4">1.5</text>
<text fill="#2e2929" stroke="#2e2929" stroke-width="0.3" transform="matrix(0.7116 0 0 1.0109 -42.573 19.718)" x="100" y="200" font-family="Liberation Serif" font-size="20.4">-1.0</text>
<text fill="#2e2929" stroke="#2e2929" stroke-width="0.3" transform="matrix(0.7116 0 0 1.0109 -42.395 53.148)" x="100" y="200" font-family="Liberation Serif" font-size="20.4">-1.2</text>
<text fill="#2e2929" stroke="#2e2929" stroke-width="0.3" transform="matrix(0.7116 0 0 1.0109 -42.928 86.578)" x="100" y="200" font-family="Liberation Serif" font-size="20.4">-1.4</text>
<text fill="#2e2929" stroke="#2e2929" stroke-width="0.3" transform="matrix(0.7116 0 0 1.0109 -42.751 120.008)" x="100" y="200" font-family="Liberation Serif" font-size="20.4">-1.6</text>
<text fill="#2e2929" stroke="#2e2929" stroke-width="0.3" transform="matrix(0.7116 0 0 1.0109 -42.573 153.438)" x="100" y="200" font-family="Liberation Serif" font-size="20.4">-1.8</text>
<text fill="#2e2929" stroke="#2e2929" stroke-width="0.3" transform="matrix(0.7116 0 0 1.0109 -42.573 186.868)" x="100" y="200" font-family="Liberation Serif" font-size="20.4">-2.0</text>
<text fill="#2e2929" stroke="#2e2929" stroke-width="0.3" transform="matrix(0.7116 0 0 1.0109 290.149 20.018)" x="100" y="200" font-family="Liberation Serif" font-size="20.4">-0.6</text>
<text fill="#2e2929" stroke="#2e2929" stroke-width="0.3" transform="matrix(0.7116 0 0 1.0109 290.149 47.788)" x="100" y="200" font-family="Liberation Serif" font-size="20.4">-0.7</text>
<text fill="#2e2929" stroke="#2e2929" stroke-width="0.3" transform="matrix(0.7116 0 0 1.0109 290.327 75.558)" x="100" y="200" font-family="Liberation Serif" font-size="20.4">-0.8</text>
<text fill="#2e2929" stroke="#2e2929" stroke-width="0.3" transform="matrix(0.7116 0 0 1.0109 290.327 103.328)" x="100" y="200" font-family="Liberation Serif" font-size="20.4">-0.9</text>
<text fill="#2e2929" stroke="#2e2929" stroke-width="0.3" transform="matrix(0.7116 0 0 1.0109 290.327 131.098)" x="100" y="200" font-family="Liberation Serif" font-size="20.4">-1.0</text>
<text fill="#2e2929" stroke="#2e2929" stroke-width="0.3" transform="matrix(0.7116 0 0 1.0109 290.683 158.868)" x="100" y="200" font-family="Liberation Serif" font-size="20.4">-1.1</text>
<text fill="#2e2929" stroke="#2e2929" stroke-width="0.3" transform="matrix(0.7116 0 0 1.0109 290.505 186.638)" x="100" y="200" font-family="Liberation Serif" font-size="20.4">-1.2</text>
<text fill="#2e2929" stroke="#2e2929" stroke-width="0.3" transform="matrix(0.7116 0 0 1.0109 -15.016 205.118)" x="100" y="200" font-family="Liberation Serif" font-size="20.4">2</text>
<text fill="#2e2929" stroke="#2e2929" stroke-width="0.3" transform="matrix(0.7116 0 0 1.0109 9.986 205.118)" x="100" y="200" font-family="Liberation Serif" font-size="20.4">3</text>
<text fill="#2e2929" stroke="#2e2929" stroke-width="0.3" transform="matrix(0.7116 0 0 1.0109 35.166 205.118)" x="100" y="200" font-family="Liberation Serif" font-size="20.4">4</text>
<text fill="#2e2929" stroke="#2e2929" stroke-width="0.3" transform="matrix(0.7116 0 0 1.0109 60.257 205.118)" x="100" y="200" font-family="Liberation Serif" font-size="20.4">5</text>
<text fill="#2e2929" stroke="#2e2929" stroke-width="0.3" transform="matrix(0.7116 0 0 1.0109 85.526 205.118)" x="100" y="200" font-family="Liberation Serif" font-size="20.4">6</text>
<text fill="#2e2929" stroke="#2e2929" stroke-width="0.3" transform="matrix(0.7116 0 0 1.0109 110.617 205.118)" x="100" y="200" font-family="Liberation Serif" font-size="20.4">7</text>
<text fill="#2e2929" stroke="#2e2929" stroke-width="0.3" transform="matrix(0.7116 0 0 1.0109 135.975 205.118)" x="100" y="200" font-family="Liberation Serif" font-size="20.4">8</text>
<text fill="#2e2929" stroke="#2e2929" stroke-width="0.3" transform="matrix(0.7116 0 0 1.0109 161.244 205.118)" x="100" y="200" font-family="Liberation Serif" font-size="20.4">9</text>
<text fill="#2e2929" stroke="#2e2929" stroke-width="0.3" transform="matrix(0.7116 0 0 1.0109 182.422 205.118)" x="100" y="200" font-family="Liberation Serif" font-size="20.4">10</text>
<text fill="#2e2929" stroke="#2e2929" stroke-width="0.3" transform="matrix(0.7116 0 0 1.0109 207.957 205.118)" x="100" y="200" font-family="Liberation Serif" font-size="20.4">11</text>
<text fill="#2e2929" stroke="#2e2929" stroke-width="0.3" transform="matrix(0.7116 0 0 1.0109 232.871 205.118)" x="100" y="200" font-family="Liberation Serif" font-size="20.4">12</text>
<text fill="#2e2929" stroke="#2e2929" stroke-width="0.3" transform="matrix(0.7116 0 0 1.0109 311.881 205.118)" x="100" y="200" font-family="Liberation Serif" font-size="20.4">2.0</text>
<text fill="#2e2929" stroke="#2e2929" stroke-width="0.3" transform="matrix(0.7116 0 0 1.0109 353.851 205.118)" x="100" y="200" font-family="Liberation Serif" font-size="20.4">2.5</text>
<text fill="#2e2929" stroke="#2e2929" stroke-width="0.3" transform="matrix(0.7116 0 0 1.0109 395.821 205.118)" x="100" y="200" font-family="Liberation Serif" font-size="20.4">3.0</text>
<text fill="#2e2929" stroke="#2e2929" stroke-width="0.3" transform="matrix(0.7116 0 0 1.0109 437.791 205.118)" x="100" y="200" font-family="Liberation Serif" font-size="20.4">3.5</text>
<text fill="#2e2929" stroke="#2e2929" stroke-width="0.3" transform="matrix(0.7116 0 0 1.0109 479.938 205.118)" x="100" y="200" font-family="Liberation Serif" font-size="20.4">4.0</text>
<text fill="#2e2929" stroke="#2e2929" stroke-width="0.3" transform="matrix(0.7116 0 0 1.0109 521.908 205.118)" x="100" y="200" font-family="Liberation Serif" font-size="20.4">4.5</text>
<text fill="#2e2929" stroke="#2e2929" stroke-width="0.3" transform="matrix(0.7116 0 0 1.0109 563.612 205.118)" x="100" y="200" font-family="Liberation Serif" font-size="20.4">5.0</text>
</svg>
</body></html>
